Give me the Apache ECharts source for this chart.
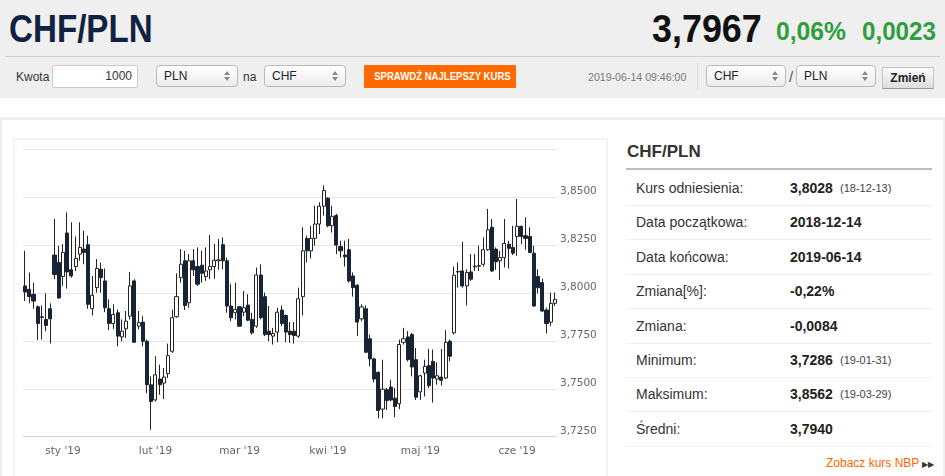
<!DOCTYPE html>
<html>
<head>
<meta charset="utf-8">
<script src="https://cdn.jsdelivr.net/npm/echarts@6/dist/echarts.min.js"></script>
<style>
body { margin: 0; width: 945px; height: 476px; overflow: hidden; background: #fff; font-family: "Liberation Sans", Arial, sans-serif; color: #333; position: relative; }
.abs { position: absolute; white-space: nowrap; }
.sq { display: inline-block; transform-origin: 0 0; }
.sel { position: absolute; height: 22px; border: 1px solid #b9b9b9; border-radius: 4px; background: linear-gradient(#ffffff, #ececec); font-size: 12px; line-height: 21px; padding-left: 7px; box-sizing: border-box; color: #222; }
.sel .ar { position: absolute; right: 7px; top: 5px; width: 0; height: 0; border-left: 3px solid transparent; border-right: 3px solid transparent; border-bottom: 4px solid #888; }
.sel .ar2 { position: absolute; right: 7px; top: 11px; width: 0; height: 0; border-left: 3px solid transparent; border-right: 3px solid transparent; border-top: 4px solid #888; }
.row { position: absolute; left: 626px; width: 306px; height: 34px; border-bottom: 1px solid #efefef; font-size: 14px; line-height: 34px; }
.row .lb { position: absolute; left: 10px; }
.row .vl { position: absolute; left: 164px; font-weight: bold; color: #222; }
.row .dt { position: absolute; left: 214px; font-size: 11px; color: #444; }
</style>
</head>
<body>
<div class="abs" style="left:0;top:0;width:945px;height:98px;background:#efefef"></div>
<div class="abs" style="left:9px;top:9px;font-size:39px;line-height:39px;color:#0f2242;font-weight:bold"><span class="sq" style="transform:scaleX(0.85)">CHF/PLN</span></div>
<div class="abs" style="left:652px;top:9px;font-size:39px;line-height:39px;color:#111;font-weight:bold"><span class="sq" style="transform:scaleX(0.92)">3,7967</span></div>
<div class="abs" style="left:776px;top:18px;font-size:26px;line-height:26px;color:#2e9e3e;font-weight:bold"><span class="sq" style="transform:scaleX(0.95)">0,06%</span></div>
<div class="abs" style="left:862px;top:18px;font-size:26px;line-height:26px;color:#2e9e3e;font-weight:bold"><span class="sq" style="transform:scaleX(0.93)">0,0023</span></div>
<div class="abs" style="left:5px;top:56px;width:935px;height:1px;background:#d2d2d2"></div>

<div class="abs" style="left:16px;top:69px;font-size:12px;line-height:16px">Kwota</div>
<div class="abs" style="left:52px;top:65px;width:86px;height:23px;box-sizing:border-box;border:1px solid #ccc;border-radius:2px;background:#fff;font-size:12px;line-height:21px;text-align:right;padding-right:5px">1000</div>
<div class="sel" style="left:156px;top:65px;width:82px">PLN<span class="ar"></span><span class="ar2"></span></div>
<div class="abs" style="left:243px;top:69px;font-size:12px;line-height:16px">na</div>
<div class="sel" style="left:264px;top:65px;width:82px">CHF<span class="ar"></span><span class="ar2"></span></div>
<div class="abs" style="left:364px;top:65px;width:152px;height:23px;background:#ff6a00;color:#fff;font-size:11px;font-weight:bold;line-height:23px;text-align:center"><span class="sq" style="transform:scaleX(0.87);transform-origin:50% 0">SPRAWDŹ NAJLEPSZY KURS</span></div>
<div class="abs" style="left:588px;top:70px;font-size:10.6px;line-height:14px;color:#777">2019-06-14 09:46:00</div>
<div class="abs" style="left:697px;top:63px;width:1px;height:27px;background:#dcdcdc"></div>
<div class="sel" style="left:706px;top:65px;width:80px">CHF<span class="ar"></span><span class="ar2"></span></div>
<div class="abs" style="left:789px;top:68px;font-size:15px;line-height:18px;color:#555">/</div>
<div class="sel" style="left:796px;top:65px;width:80px">PLN<span class="ar"></span><span class="ar2"></span></div>
<div class="abs" style="left:882px;top:67px;width:52px;height:22px;box-sizing:border-box;border:1px solid #c4c4c4;border-bottom-color:#999;background:linear-gradient(#fafafa,#dedede);font-size:12px;font-weight:bold;line-height:20px;text-align:center;color:#222">Zmień</div>

<div class="abs" style="left:0;top:117px;width:945px;height:359px;box-sizing:border-box;border-top:3px solid #efefef;border-left:2px solid #efefef;border-right:2px solid #efefef"></div>
<div class="abs" style="left:13px;top:138px;width:595px;height:345px;box-sizing:border-box;border:2px solid #f3f3f3"></div>
<div id="chart" class="abs" style="left:13px;top:138px;width:595px;height:338px"></div>

<div class="abs" style="left:627px;top:141px;font-size:17px;line-height:22px;font-weight:bold;color:#333">CHF/PLN</div>
<div class="abs" style="left:626px;top:168px;width:306px;height:2px;background:#bdbdbd"></div>
<div id="table"></div>
<div class="abs" style="left:826px;top:455px;font-size:12px;line-height:16px;color:#ff6600">Zobacz kurs NBP <span style="color:#333;font-size:8px">&#9654;&#9654;</span></div>

<script>
// notowania dzienne CHF/PLN, 2018-12-14 .. 2019-06-14
var dates = [
  '2018-12-14','2018-12-17','2018-12-18','2018-12-19','2018-12-20','2018-12-21','2018-12-27','2018-12-28','2018-12-31',
  '2019-01-02','2019-01-03','2019-01-04','2019-01-07','2019-01-08','2019-01-09','2019-01-10','2019-01-11','2019-01-14','2019-01-15','2019-01-16','2019-01-17','2019-01-18','2019-01-21','2019-01-22','2019-01-23','2019-01-24','2019-01-25','2019-01-28','2019-01-29','2019-01-30','2019-01-31',
  '2019-02-01','2019-02-04','2019-02-05','2019-02-06','2019-02-07','2019-02-08','2019-02-11','2019-02-12','2019-02-13','2019-02-14','2019-02-15','2019-02-18','2019-02-19','2019-02-20','2019-02-21','2019-02-22','2019-02-25','2019-02-26','2019-02-27','2019-02-28',
  '2019-03-01','2019-03-04','2019-03-05','2019-03-06','2019-03-07','2019-03-08','2019-03-11','2019-03-12','2019-03-13','2019-03-14','2019-03-15','2019-03-18','2019-03-19','2019-03-20','2019-03-21','2019-03-22','2019-03-25','2019-03-26','2019-03-27','2019-03-28','2019-03-29',
  '2019-04-01','2019-04-02','2019-04-03','2019-04-04','2019-04-05','2019-04-08','2019-04-09','2019-04-10','2019-04-11','2019-04-12','2019-04-15','2019-04-16','2019-04-17','2019-04-18','2019-04-19','2019-04-22','2019-04-23','2019-04-24','2019-04-25','2019-04-26','2019-04-29','2019-04-30',
  '2019-05-01','2019-05-02','2019-05-03','2019-05-06','2019-05-07','2019-05-08','2019-05-09','2019-05-10','2019-05-13','2019-05-14','2019-05-15','2019-05-16','2019-05-17','2019-05-20','2019-05-21','2019-05-22','2019-05-23','2019-05-24','2019-05-27','2019-05-28','2019-05-29','2019-05-30','2019-05-31',
  '2019-06-03','2019-06-04','2019-06-05','2019-06-06','2019-06-07','2019-06-10','2019-06-11','2019-06-12','2019-06-13','2019-06-14'
];
var opens = [
  3.8037,3.8019,3.7993,3.7928,3.7876,3.7862,3.7918,3.8198,3.8159,
  3.8086,3.8313,3.8121,3.8138,3.8203,3.8229,3.8252,3.7918,3.8028,3.8124,3.8063,3.7918,3.7841,3.7897,3.7771,3.7813,3.7879,3.8063,3.7827,3.7848,3.7748,3.7521,
  3.7442,3.7551,3.7530,3.7579,3.7696,3.7876,3.8080,3.8168,3.7949,3.8168,3.8138,3.8145,3.8086,3.8121,3.8138,3.8168,3.8252,3.8168,3.7932,3.7897,
  3.7928,3.7900,3.7937,3.7862,3.7827,3.8094,3.7981,3.7801,3.7775,3.7796,3.7911,3.7883,3.7801,3.7801,3.7775,3.7981,3.8285,3.8220,3.8285,3.8360,3.8453,
  3.8495,3.8351,3.8404,3.8243,3.8198,3.8226,3.8089,3.8040,3.7865,3.7918,3.7761,3.7656,3.7586,3.7394,3.7495,3.7509,3.7451,3.7422,3.7743,3.7771,3.7783,3.7652,
  3.7484,3.7582,3.7621,3.7643,3.7551,3.7561,3.7556,3.7748,3.7792,3.8112,3.8115,3.8037,3.8110,3.8136,3.8140,3.8150,3.8226,3.8343,3.8229,3.8168,3.8185,3.8255,3.8238,
  3.8295,3.8348,3.8299,3.8295,3.8208,3.8086,3.8054,3.7911,3.7848,3.7946
];
var closes = [
  3.8005,3.7981,3.7958,3.7841,3.7872,3.7831,3.7865,3.8096,3.7974,
  3.8212,3.8110,3.8089,3.8180,3.8238,3.8212,3.7941,3.7988,3.8128,3.8080,3.7923,3.7841,3.7888,3.7775,3.7801,3.7853,3.8037,3.7743,3.7845,3.7748,3.7521,3.7434,
  3.7573,3.7521,3.7561,3.7673,3.7871,3.7981,3.8150,3.7935,3.8168,3.8121,3.8046,3.8103,3.8115,3.8138,3.8171,3.8173,3.8168,3.7932,3.7871,3.7914,
  3.7827,3.7923,3.7858,3.7792,3.8094,3.7871,3.7783,3.7783,3.7789,3.7900,3.7841,3.7796,3.7783,3.7778,3.7970,3.8220,3.8220,3.8285,3.8360,3.8453,3.8535,
  3.8351,3.8400,3.8250,3.8220,3.8189,3.8063,3.8028,3.7848,3.7927,3.7691,3.7656,3.7551,3.7387,3.7498,3.7439,3.7442,3.7408,3.7731,3.7761,3.7652,3.7614,3.7456,
  3.7568,3.7617,3.7516,3.7556,3.7568,3.7544,3.7743,3.7670,3.8093,3.8110,3.8037,3.8107,3.8072,3.8140,3.8143,3.8226,3.8330,3.8115,3.8163,3.8185,3.8259,3.8233,3.8208,
  3.8348,3.8295,3.8285,3.8212,3.7932,3.8028,3.7906,3.7841,3.7946,3.7967
];
var lows = [
  3.7958,3.7946,3.7918,3.7754,3.7757,3.7801,3.7736,3.8072,3.7970,
  3.8037,3.8023,3.8080,3.8114,3.8168,3.8150,3.7918,3.7883,3.8002,3.8002,3.7900,3.7806,3.7813,3.7722,3.7748,3.7766,3.7862,3.7740,3.7810,3.7722,3.7477,3.7286,
  3.7434,3.7469,3.7446,3.7556,3.7687,3.7871,3.8054,3.7911,3.7923,3.8089,3.8037,3.8054,3.8063,3.8072,3.8075,3.8121,3.8124,3.7897,3.7853,3.7862,
  3.7824,3.7879,3.7853,3.7783,3.7818,3.7862,3.7775,3.7748,3.7731,3.7743,3.7827,3.7743,3.7740,3.7736,3.7766,3.7883,3.8159,3.8180,3.8247,3.8308,3.8404,
  3.8343,3.8316,3.8203,3.8185,3.8138,3.8054,3.7981,3.7775,3.7853,3.7687,3.7617,3.7533,3.7346,3.7346,3.7390,3.7434,3.7352,3.7394,3.7731,3.7643,3.7565,3.7442,
  3.7442,3.7460,3.7504,3.7428,3.7521,3.7516,3.7551,3.7643,3.7783,3.8028,3.8028,3.7935,3.8063,3.8115,3.8115,3.8138,3.8220,3.8110,3.8121,3.8068,3.8133,3.8128,3.8198,
  3.8194,3.8255,3.8226,3.8208,3.7928,3.7998,3.7900,3.7789,3.7827,3.7932
];
var highs = [
  3.8220,3.8107,3.8054,3.7935,3.7935,3.7998,3.7946,3.8386,3.8247,
  3.8255,3.8421,3.8369,3.8295,3.8369,3.8325,3.8299,3.8089,3.8177,3.8159,3.8128,3.7967,3.7941,3.7914,3.7862,3.7906,3.8110,3.8072,3.7906,3.7879,3.7757,3.7565,
  3.7670,3.7626,3.7609,3.7736,3.7914,3.8103,3.8229,3.8220,3.8203,3.8229,3.8238,3.8220,3.8238,3.8302,3.8255,3.8282,3.8290,3.8185,3.8046,3.8054,
  3.7932,3.8011,3.7993,3.7897,3.8133,3.8150,3.8002,3.7932,3.7818,3.7923,3.7935,3.7888,3.7848,3.7848,3.8028,3.8343,3.8299,3.8351,3.8456,3.8474,3.8562,
  3.8500,3.8456,3.8413,3.8273,3.8273,3.8282,3.8107,3.8046,3.7941,3.7935,3.7783,3.7661,3.7591,3.7652,3.7504,3.7547,3.7504,3.7757,3.7818,3.7801,3.7792,3.7713,
  3.7574,3.7652,3.7708,3.7705,3.7638,3.7708,3.7806,3.7757,3.8138,3.8159,3.8268,3.8124,3.8203,3.8203,3.8247,3.8290,3.8439,3.8386,3.8238,3.8220,3.8386,3.8273,3.8351,
  3.8491,3.8351,3.8395,3.8343,3.8247,3.8124,3.8075,3.7923,3.8002,3.8002
];
var monthNames = { '01': "sty '19", '02': "lut '19", '03': "mar '19", '04': "kwi '19", '05': "maj '19", '06': "cze '19" };
var yMin = 3.725, yMax = 3.875, yStep = 0.025;

// tabelka po prawej
var tableRows = [
  ['Kurs odniesienia:', '3,8028', '(18-12-13)'],
  ['Data początkowa:', '2018-12-14', ''],
  ['Data końcowa:', '2019-06-14', ''],
  ['Zmiana[%]:', '-0,22%', ''],
  ['Zmiana:', '-0,0084', ''],
  ['Minimum:', '3,7286', '(19-01-31)'],
  ['Maksimum:', '3,8562', '(19-03-29)'],
  ['Średni:', '3,7940', '']
];

var html = '';
for (var r = 0; r < tableRows.length; r++) {
  html += '<div class="row" style="top:' + (171 + r * 34.4) + 'px"><span class="lb">' + tableRows[r][0] + '</span><span class="vl">' + tableRows[r][1] + '</span><span class="dt">' + tableRows[r][2] + '</span></div>';
}
document.getElementById('table').innerHTML = html;

var candles = [];
for (var i = 0; i < dates.length; i++) {
  candles.push([opens[i], closes[i], lows[i], highs[i]]);
}

// pierwsza sesja kazdego miesiaca (bez grudnia) dostaje etykiete
function monthStart(index) {
  if (index == 0) return false;
  return dates[index].slice(0, 7) != dates[index - 1].slice(0, 7);
}

var myChart = echarts.init(document.getElementById('chart'));
myChart.setOption({
  animation: false,
  grid: { left: 10, top: 11.3, width: 534, height: 287.4 },
  xAxis: {
    type: 'category',
    data: dates,
    boundaryGap: true,
    axisLine: { lineStyle: { color: '#ccd6eb' } },
    axisTick: { length: 7, alignWithLabel: true, interval: monthStart, lineStyle: { color: '#ccd6eb' } },
    axisLabel: {
      interval: monthStart,
      margin: 9,
      color: '#666',
      fontSize: 10.5,
      fontFamily: 'DejaVu Sans',
      formatter: function (v) { return monthNames[v.slice(5, 7)]; }
    },
    splitLine: { show: false }
  },
  yAxis: {
    type: 'value',
    position: 'right',
    min: yMin,
    max: yMax,
    interval: yStep,
    axisLine: { show: false },
    axisTick: { show: false },
    splitLine: { lineStyle: { color: '#e6e6e6' } },
    axisLabel: {
      showMaxLabel: false,
      margin: 3,
      verticalAlign: 'bottom',
      color: '#666',
      fontSize: 10.5,
      fontFamily: 'DejaVu Sans',
      formatter: function (v) { return v.toFixed(4).replace('.', ','); }
    }
  },
  series: [{
    type: 'candlestick',
    data: candles,
    barWidth: 3.6,
    itemStyle: {
      color: '#ffffff',
      color0: '#0d2546',
      borderColor: '#222',
      borderColor0: '#222',
      borderWidth: 1
    }
  }]
});
</script>
</body>
</html>
